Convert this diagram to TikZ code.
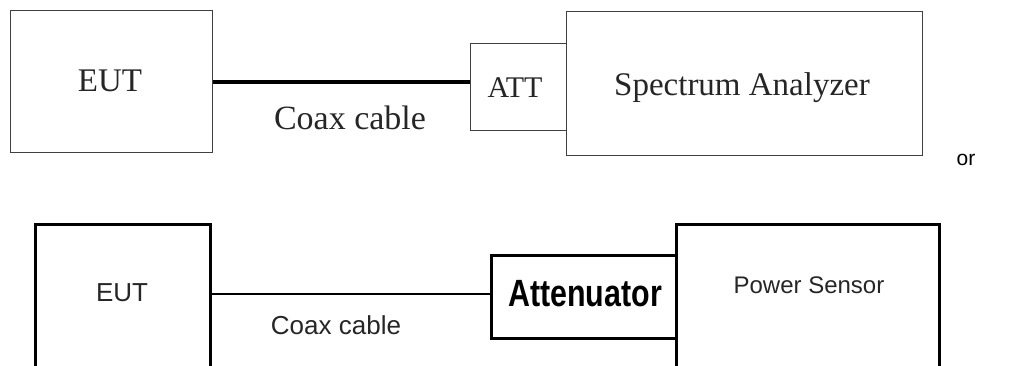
\documentclass[tikz,border=0pt]{standalone}
\usepackage{fontspec}
\setmainfont{Liberation Serif}
\newfontfamily\arialfont{Liberation Sans}
\begin{document}
\begin{tikzpicture}[x=1pt,y=-1pt,
  topbox/.style={draw=black!75, line width=1.4pt, fill=white, inner sep=0pt, anchor=north west},
  botbox/.style={draw=black, line width=2.6pt, fill=white, inner sep=0pt, anchor=north west},
  lbl/.style={inner sep=0pt, anchor=center},
  serifl/.style={lbl, font=\fontsize{33}{36}\selectfont, text=black!85},
  sansl/.style={lbl, font=\arialfont\fontsize{26}{30}\selectfont, text=black!85}]
\useasboundingbox (0,0) rectangle (1028,365);
\clip (0,0) rectangle (1028,365);
% top row
\node[topbox, minimum width=202pt, minimum height=142pt] (eutA) at (10,10) {};
\node[topbox, minimum width=96pt, minimum height=87pt] (attA) at (470,43) {};
\node[topbox, minimum width=356pt, minimum height=144pt] (saA) at (566,11) {};
\draw[line width=4pt, black] (eutA.east) -- (eutA.east -| attA.west);
\node[serifl] (eutAt) at (110,81) {EUT};
\node[serifl, font=\fontsize{34}{36}\selectfont] (coaxA) at (350,118) {Coax cable};
\node[serifl, font=\fontsize{30}{34}\selectfont] (attAt) at (515,88) {ATT};
\node[serifl] (saAt) at (742,88) {Spectrum Analyzer};
\node[lbl, font=\arialfont\fontsize{21}{24}\selectfont] (or) at (966,160) {or};
% bottom row
\node[botbox, minimum width=175pt, minimum height=170pt] (eutB) at (34,223) {};
\node[botbox, minimum width=185pt, minimum height=83pt] (attB) at (490,254) {};
\node[botbox, minimum width=263pt, minimum height=170pt] (psB) at (675,223) {};
\draw[line width=2.3pt, black] (attB.west) ++(0,-3) coordinate (cabR) -- (cabR -| eutB.east);
\node[sansl] (eutBt) at (122,293) {EUT};
\node[sansl] (coaxB) at (336,325) {Coax cable};
\node[lbl, font=\arialfont\bfseries\fontsize{38}{40}\selectfont] (attBt) at (585,294) {\scalebox{0.8}[1]{Attenuator}};
\node[sansl, font=\arialfont\fontsize{24}{28}\selectfont] (psBt) at (809,285) {Power Sensor};
\end{tikzpicture}
\end{document}
